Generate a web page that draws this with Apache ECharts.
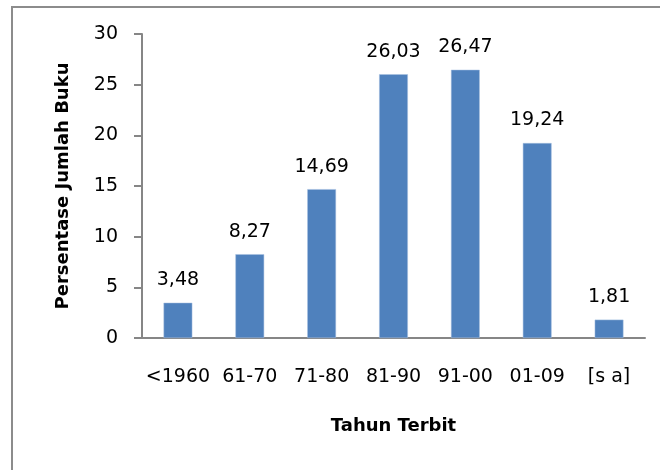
<!DOCTYPE html>
<html>
<head>
<meta charset="utf-8">
<script src="https://cdn.jsdelivr.net/npm/echarts@6/dist/echarts.min.js"></script>
<style>html,body{margin:0;padding:0;background:#fff}#c{width:660px;height:470px}</style>
</head>
<body>
<div id="c"></div>
<script>
var categories = ['<1960', '61-70', '71-80', '81-90', '91-00', '01-09', '[s a]'];
var values = [3.48, 8.27, 14.69, 26.03, 26.47, 19.24, 1.81];
var labels = ['3,48', '8,27', '14,69', '26,03', '26,47', '19,24', '1,81'];
var yTicks = [0, 5, 10, 15, 20, 25, 30];

var chart = echarts.init(document.getElementById('c'), null, {renderer: 'canvas'});
var font = 'DejaVu Sans';
chart.setOption({
  animation: false,
  backgroundColor: '#fff',
  graphic: [{
    type: 'rect',
    shape: {x: 12, y: 7, width: 700, height: 520},
    style: {fill: 'none', stroke: '#8c8c8c', lineWidth: 2},
    silent: true
  }],
  grid: {left: 142, right: 15, top: 34, bottom: 132, containLabel: false},
  xAxis: {
    type: 'category',
    data: categories,
    name: 'Tahun Terbit',
    nameLocation: 'middle',
    nameGap: 79,
    nameTextStyle: {fontFamily: font, fontSize: 18, fontWeight: 'bold', color: '#000'},
    axisLine: {lineStyle: {color: '#868686', width: 2}},
    axisTick: {show: false},
    axisLabel: {fontFamily: font, fontSize: 19, color: '#000', margin: 30, interval: 0}
  },
  yAxis: {
    type: 'value',
    min: 0,
    max: 30,
    interval: 5,
    name: 'Persentase Jumlah Buku',
    nameLocation: 'middle',
    nameGap: 70,
    nameTextStyle: {fontFamily: font, fontSize: 18, fontWeight: 'bold', color: '#000'},
    axisLine: {show: true, lineStyle: {color: '#868686', width: 2}},
    axisTick: {show: true, length: 8, lineStyle: {color: '#868686', width: 2}},
    splitLine: {show: false},
    axisLabel: {
      fontFamily: font, fontSize: 19, color: '#000', margin: 24,
      formatter: function (v) { return yTicks.indexOf(v) >= 0 ? String(v) : ''; }
    }
  },
  series: [{
    type: 'bar',
    data: values,
    barWidth: '40%',
    itemStyle: {color: '#4F81BD', borderColor: '#a9c1e0', borderWidth: 0.5},
    label: {
      show: true,
      position: 'top',
      distance: 13,
      fontFamily: font,
      fontSize: 19,
      color: '#000',
      formatter: function (p) { return labels[p.dataIndex]; }
    }
  }]
});
</script>
</body>
</html>
